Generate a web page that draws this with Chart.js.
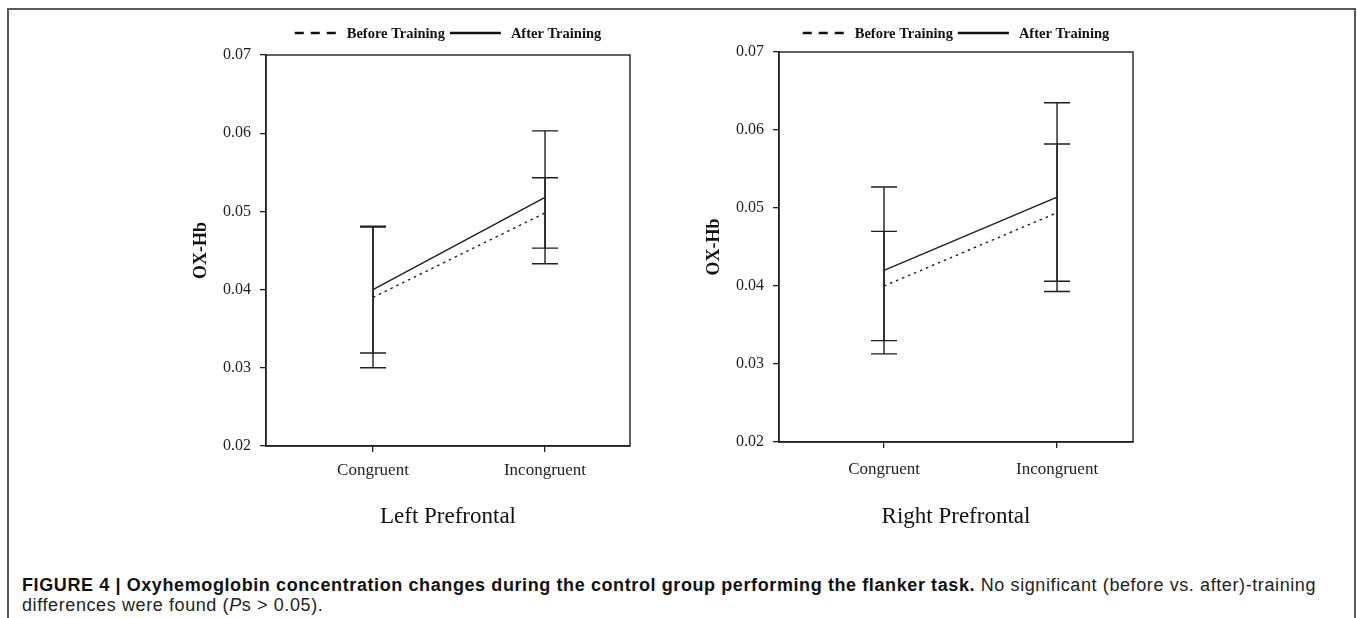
<!DOCTYPE html>
<html>
<head>
<meta charset="utf-8">
<script src="https://cdn.jsdelivr.net/npm/chart.js@4.4.0/dist/chart.umd.min.js"></script>
<style>
  body { margin: 0; background: #fff; width: 1357px; height: 618px; overflow: hidden; position: relative; }
  .frame { position: absolute; left: 7px; top: 8px; width: 1345px; height: 700px; border: 2px solid #5a5a5a; border-bottom: none; }
  .panel { position: absolute; top: 0; height: 560px; }
  #caption { position: absolute; left: 22px; top: 575px; font-family: "Liberation Sans", Arial, sans-serif; font-size: 18px; letter-spacing: 0.6px; line-height: 20px; color: #222; white-space: nowrap; }
  #caption b { color: #111; }
</style>
</head>
<body>
<div class="frame"></div>
<div class="panel" style="left:0;width:680px"><canvas id="leftChart"></canvas></div>
<div class="panel" style="left:680px;width:677px"><canvas id="rightChart"></canvas></div>
<div id="caption"><b>FIGURE 4 | Oxyhemoglobin concentration changes during the control group performing the flanker task.</b> No significant (before vs. after)-training<br>differences were found (<i>P</i>s &gt; 0.05).</div>

<script>
const categories = ['Congruent', 'Incongruent']
const seriesLabels = ['Before Training', 'After Training']
const yTicks = [0.02, 0.03, 0.04, 0.05, 0.06, 0.07]

// left prefrontal: means and error half-widths
const leftBefore = [0.0390, 0.0498]
const leftBeforeErr = [0.0090, 0.0045]
const leftAfter = [0.0400, 0.0518]
const leftAfterErr = [0.0081, 0.0085]

// right prefrontal
const rightBefore = [0.0400, 0.0494]
const rightBeforeErr = [0.0070, 0.0088]
const rightAfter = [0.0420, 0.0514]
const rightAfterErr = [0.0107, 0.0121]

const ink = '#1e1e1e'
const serif = '"Liberation Serif", "Times New Roman", serif'

// box around plot + error bars with caps
const errorBars = {
  id: 'errorBars',
  afterDatasetsDraw(chart) {
    const { ctx, chartArea: a, scales: { x, y } } = chart
    ctx.save()
    ctx.strokeStyle = ink
    ctx.lineWidth = 1.4
    ctx.setLineDash([])
    ctx.strokeRect(a.left, a.top, a.right - a.left, a.bottom - a.top)
    chart.data.datasets.forEach(ds => {
      ds.data.forEach((p, i) => {
        const px = x.getPixelForValue(p.x)
        const hi = y.getPixelForValue(p.y + ds.err[i])
        const lo = y.getPixelForValue(p.y - ds.err[i])
        ctx.beginPath()
        ctx.moveTo(px, hi); ctx.lineTo(px, lo)
        ctx.moveTo(px - 13, hi); ctx.lineTo(px + 13, hi)
        ctx.moveTo(px - 13, lo); ctx.lineTo(px + 13, lo)
        ctx.stroke()
      })
    })
    ctx.restore()
  }
}

// legend above the plot, centred on the chart area
const topLegend = {
  id: 'topLegend',
  afterDraw(chart) {
    const { ctx, chartArea: a } = chart
    ctx.save()
    ctx.font = 'bold 14.5px ' + serif
    ctx.fillStyle = '#111'
    ctx.strokeStyle = '#111'
    ctx.lineWidth = 2.5
    ctx.textBaseline = 'middle'
    const items = chart.data.datasets.map(ds => {
      const dashed = ds.borderDash && ds.borderDash.length > 0
      return { label: ds.label, dashed, sample: dashed ? 42 : 51, w: ctx.measureText(ds.label).width }
    })
    const gapText = 10, gapItem = 5
    let total = 0
    items.forEach((it, i) => { total += it.sample + gapText + it.w + (i ? gapItem : 0) })
    let cx = (a.left + a.right) / 2 - total / 2
    const cy = 33
    items.forEach((it, i) => {
      if (i) cx += gapItem
      ctx.setLineDash(it.dashed ? [9, 7] : [])
      ctx.beginPath()
      ctx.moveTo(cx, cy); ctx.lineTo(cx + it.sample, cy)
      ctx.stroke()
      cx += it.sample + gapText
      ctx.fillText(it.label, cx, cy + 1)
      cx += it.w
    })
    ctx.restore()
  }
}

function makeChart(id, title, before, beforeErr, after, afterErr, view) {
  const ctx = document.getElementById(id).getContext('2d')
  return new Chart(ctx, {
    type: 'line',
    data: {
      datasets: [
        {
          label: seriesLabels[0],
          data: before.map((v, i) => ({ x: i, y: v })),
          err: beforeErr,
          borderColor: ink,
          borderWidth: 1.4,
          borderDash: [2.5, 4],
          pointRadius: 0
        },
        {
          label: seriesLabels[1],
          data: after.map((v, i) => ({ x: i, y: v })),
          err: afterErr,
          borderColor: ink,
          borderWidth: 1.4,
          pointRadius: 0
        }
      ]
    },
    options: {
      responsive: true,
      maintainAspectRatio: false,
      animation: false,
      layout: { padding: view.padding },
      plugins: { legend: { display: false }, tooltip: { enabled: false } },
      scales: {
        x: {
          type: 'linear',
          min: view.xMin,
          max: view.xMax,
          afterBuildTicks: s => { s.ticks = categories.map((c, i) => ({ value: i })) },
          ticks: {
            callback: v => categories[v],
            autoSkip: false,
            maxRotation: 0,
            color: ink,
            padding: view.xPad,
            font: { family: serif, size: 17 }
          },
          grid: { drawOnChartArea: false, tickLength: 6, color: ink, lineWidth: 1.3 },
          border: { color: ink, width: 1.4 },
          title: { display: true, text: title, color: '#111', padding: 0, font: { family: serif, size: 23 } },
          afterFit: s => { s.height = view.xHeight }
        },
        y: {
          min: yTicks[0],
          max: yTicks[yTicks.length - 1],
          afterBuildTicks: s => { s.ticks = yTicks.map(v => ({ value: v })) },
          ticks: {
            callback: v => v.toFixed(2),
            color: ink,
            padding: 9,
            font: { family: serif, size: 16 }
          },
          grid: { drawOnChartArea: false, tickLength: 6, color: ink, lineWidth: 1.3 },
          border: { color: ink, width: 1.4 },
          title: { display: true, text: 'OX-Hb', color: '#111', padding: { top: 1, bottom: 0 }, font: { family: serif, size: 18, weight: 'bold' } },
          afterFit: s => { s.width = 76 }
        }
      }
    },
    plugins: [errorBars, topLegend]
  })
}

makeChart('leftChart', 'Left Prefrontal', leftBefore, leftBeforeErr, leftAfter, leftAfterErr, {
  padding: { left: 190, right: 50, top: 55, bottom: 29 },
  xMin: -0.622, xMax: 1.494, xHeight: 85, xPad: 8
})
makeChart('rightChart', 'Right Prefrontal', rightBefore, rightBeforeErr, rightAfter, rightAfterErr, {
  padding: { left: 23, right: 224, top: 52, bottom: 29 },
  xMin: -0.607, xMax: 1.439, xHeight: 89, xPad: 11
})
</script>
</body>
</html>
